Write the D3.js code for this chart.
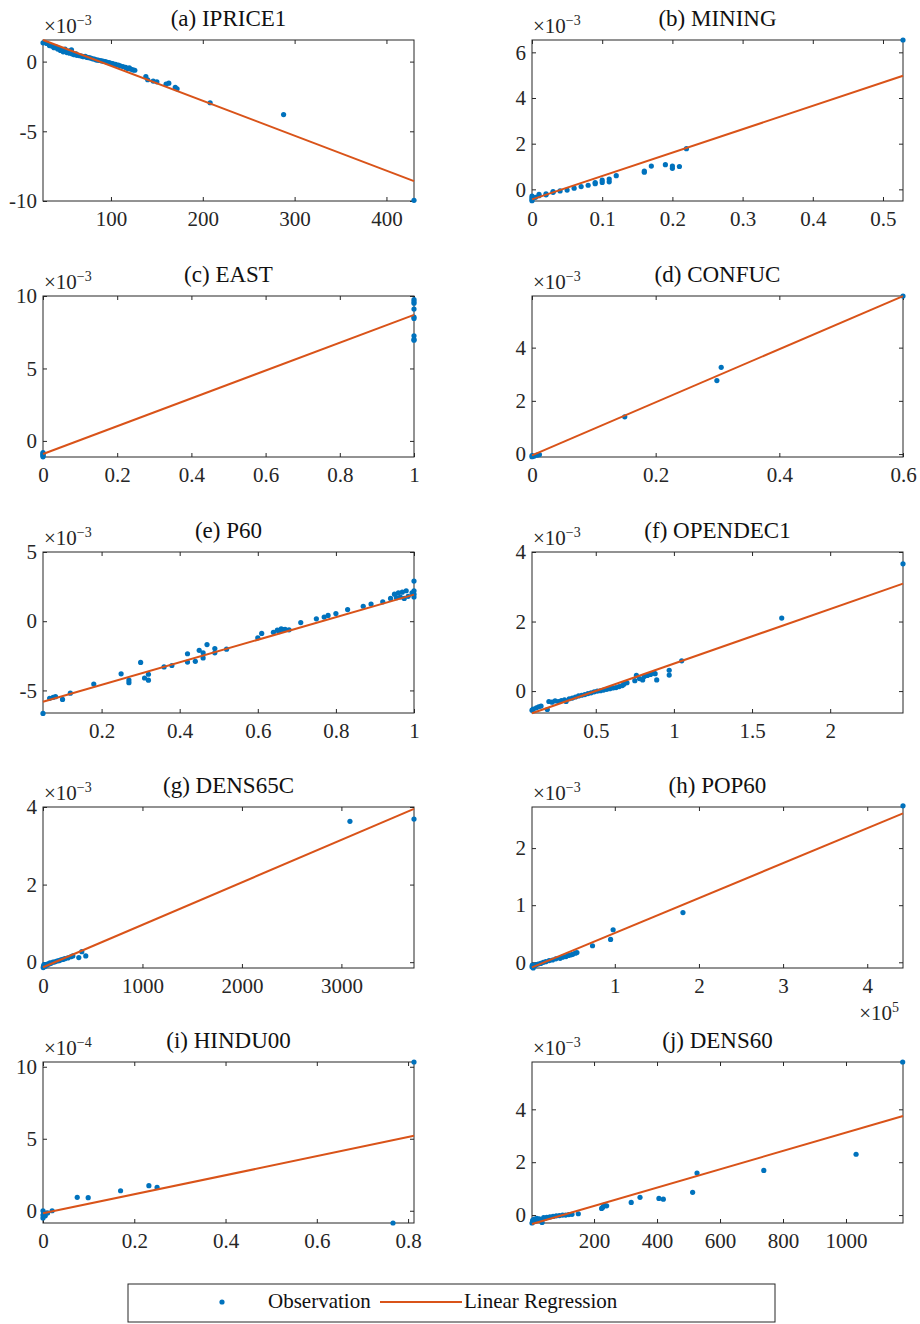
<!DOCTYPE html>
<html>
<head>
<meta charset="utf-8">
<script src="https://cdn.jsdelivr.net/npm/d3@7"></script>
<style>
  body { margin: 0; background: #fff; }
  svg text { font-family: "Liberation Serif", "DejaVu Serif", serif; }
</style>
</head>
<body>
<svg id="chart" width="920" height="1324"></svg>
<script>
// ---- data (y values are in units of 10^yExp, x in units of 10^xExp) ----
const titles = ["(a) IPRICE1", "(b) MINING", "(c) EAST", "(d) CONFUC", "(e) P60",
  "(f) OPENDEC1", "(g) DENS65C", "(h) POP60", "(i) HINDU00", "(j) DENS60"];
const yExps = [-3, -3, -3, -3, -3, -3, -3, -3, -4, -3];
const xExps = [0, 0, 0, 0, 0, 0, 0, 5, 0, 0];
const xTicks = [
  [100, 200, 300, 400], [0, 0.1, 0.2, 0.3, 0.4, 0.5], [0, 0.2, 0.4, 0.6, 0.8, 1],
  [0, 0.2, 0.4, 0.6], [0.2, 0.4, 0.6, 0.8, 1], [0.5, 1, 1.5, 2],
  [0, 1000, 2000, 3000], [1, 2, 3, 4], [0, 0.2, 0.4, 0.6, 0.8], [200, 400, 600, 800, 1000]
];
const yTicks = [
  [-10, -5, 0], [0, 2, 4, 6], [0, 5, 10], [0, 2, 4], [-5, 0, 5],
  [0, 2, 4], [0, 2, 4], [0, 1, 2], [0, 5, 10], [0, 2, 4]
];
const xLims = [[26, 430], [0, 0.5285], [0, 1], [0, 0.6], [0.05, 1],
  [0.092, 2.466], [0, 3730], [0.016, 4.425], [0, 0.813], [3, 1181]];
const yLims = [[-10, 1.55], [-0.51, 6.54], [-1.11, 10], [-0.11, 5.94], [-6.63, 5],
  [-0.63, 4], [-0.15, 4], [-0.1, 2.72], [-0.85, 10.33], [-0.3, 5.79]];
// linear regression: [intercept, slope]
const fits = [[2.2, -0.02505], [-0.44, 10.24], [-0.9, 9.6], [-0.05, 9.98], [-6.23, 8.15],
  [-0.78, 1.57], [-0.13, 0.001094], [-0.1, 0.612], [-0.18, 6.62], [-0.35, 0.00347]];

const iprice1 = [[26,1.35],[30,1.3],[33,1.15],[36,1.1],[38,1.0],[40,1.05],[42,0.9],[44,0.95],[45,0.8],
  [47,0.85],[48,0.7],[50,0.9],[52,0.65],[54,0.75],[55,0.6],[57,0.85],[58,0.55],[60,0.5],[62,0.55],
  [63,0.45],[66,0.42],[68,0.4],[70,0.35],[72,0.38],[74,0.3],[76,0.28],[78,0.25],[80,0.2],[82,0.18],
  [84,0.12],[86,0.1],[88,0.08],[90,0.05],[92,0.02],[94,0],[96,-0.05],[98,-0.08],[100,-0.12],
  [102,-0.15],[105,-0.2],[108,-0.25],[110,-0.3],[113,-0.35],[116,-0.42],[118,-0.5],[120,-0.45],
  [122,-0.55],[124,-0.6],[126,-0.62],[138,-1.08],[140,-1.3],[146,-1.4],[150,-1.45],[160,-1.62],
  [163,-1.55],[170,-1.85],[172,-1.95],[208,-2.95],[288,-3.8],[430,-9.95]];
const mining = [[0,-0.5],[0,-0.45],[0,-0.38],[0,-0.3],[0.005,-0.35],[0.01,-0.22],[0.01,-0.28],
  [0.02,-0.2],[0.02,-0.24],[0.03,-0.13],[0.03,-0.1],[0.04,-0.07],[0.05,-0.03],[0.06,0.05],
  [0.07,0.12],[0.08,0.18],[0.09,0.25],[0.09,0.3],[0.1,0.3],[0.1,0.4],[0.11,0.33],[0.11,0.45],
  [0.12,0.6],[0.16,0.8],[0.16,0.75],[0.17,1.02],[0.19,1.08],[0.2,0.92],[0.2,1.02],[0.21,1.0],
  [0.22,1.78],[0.5285,6.54]];
const east = [[0,-0.8],[0,-0.88],[0,-0.95],[0,-1.02],[0,-1.1],
  [1,9.75],[1,9.62],[1,9.5],[1,9.1],[1,8.55],[1,8.45],[1,7.25],[1,7.0],[1,6.95]];
const confuc = [[0,-0.1],[0,-0.06],[0.003,-0.08],[0.008,-0.04],[0.012,-0.02],
  [0.15,1.4],[0.299,2.76],[0.306,3.26],[0.6,5.94]];
const p60 = [[0.05,-6.66],[0.067,-5.57],[0.076,-5.5],[0.082,-5.45],[0.1,-5.65],[0.12,-5.2],
  [0.18,-4.54],[0.25,-3.8],[0.27,-4.25],[0.27,-4.44],[0.3,-2.98],[0.31,-4.1],[0.32,-4.26],
  [0.32,-3.83],[0.36,-3.3],[0.38,-3.2],[0.42,-2.35],[0.42,-2.95],[0.44,-2.9],[0.45,-2.1],
  [0.46,-2.65],[0.46,-2.28],[0.47,-1.69],[0.49,-1.97],[0.49,-2.28],[0.52,-2.02],[0.6,-1.2],
  [0.61,-0.88],[0.64,-0.8],[0.65,-0.65],[0.655,-0.75],[0.66,-0.55],[0.665,-0.6],[0.67,-0.58],
  [0.68,-0.62],[0.71,-0.1],[0.75,0.17],[0.77,0.3],[0.78,0.42],[0.8,0.55],[0.83,0.84],[0.87,1.08],
  [0.89,1.24],[0.92,1.4],[0.94,1.65],[0.95,1.95],[0.955,1.7],[0.96,2.05],[0.965,1.75],[0.97,2.1],
  [0.975,1.65],[0.98,2.2],[0.985,1.8],[1,2.9],[1,2.2],[1,1.95],[1,1.75],[0.995,2.05]];
const opendec1 = [[0.092,-0.55],[0.1,-0.52],[0.12,-0.48],[0.135,-0.45],[0.15,-0.43],[0.19,-0.53],
  [0.2,-0.3],[0.22,-0.32],[0.24,-0.28],[0.26,-0.3],[0.28,-0.27],[0.3,-0.25],[0.31,-0.3],[0.33,-0.22],
  [0.35,-0.2],[0.37,-0.17],[0.39,-0.14],[0.41,-0.12],[0.43,-0.1],[0.45,-0.07],[0.47,-0.05],
  [0.49,-0.02],[0.51,0],[0.53,0.01],[0.55,0.03],[0.57,0.05],[0.59,0.07],[0.61,0.09],[0.63,0.1],
  [0.65,0.13],[0.67,0.16],[0.68,0.2],[0.7,0.24],[0.75,0.3],[0.76,0.45],[0.78,0.36],[0.8,0.32],
  [0.81,0.42],[0.83,0.45],[0.85,0.48],[0.87,0.52],[0.88,0.5],[0.89,0.32],[0.97,0.6],[0.97,0.46],
  [1.05,0.87],[1.69,2.1],[2.466,3.66]];
const dens65c = [[2,-0.14],[5,-0.1],[8,-0.12],[10,-0.06],[15,-0.11],[20,-0.08],[25,-0.1],[30,-0.06],
  [40,-0.07],[50,-0.04],[60,-0.05],[70,-0.02],[80,-0.03],[100,0],[120,0.01],[140,0.03],[160,0.04],
  [180,0.06],[200,0.07],[220,0.09],[250,0.11],[280,0.14],[300,0.16],[360,0.12],[390,0.27],
  [430,0.16],[3086,3.63],[3730,3.69]];
const pop60 = [[0.016,-0.08],[0.02,-0.05],[0.03,-0.1],[0.05,-0.06],[0.07,-0.04],[0.09,-0.03],
  [0.12,-0.02],[0.15,0],[0.18,0.01],[0.22,0.03],[0.26,0.04],[0.3,0.06],[0.35,0.07],[0.38,0.09],
  [0.42,0.1],[0.45,0.12],[0.48,0.13],[0.5,0.14],[0.53,0.16],[0.55,0.17],[0.735,0.29],[0.95,0.4],
  [0.98,0.57],[1.81,0.87],[4.425,2.74]];
const hindu00 = [[0,-0.5],[0,-0.3],[0,0],[0.002,-0.2],[0.005,-0.35],[0.01,-0.15],[0.02,0],
  [0.075,0.93],[0.099,0.91],[0.17,1.39],[0.232,1.74],[0.25,1.62],[0.767,-0.85],[0.813,10.33]];
const dens60 = [[3,-0.3],[5,-0.2],[8,-0.25],[10,-0.15],[14,-0.22],[18,-0.12],[22,-0.18],[26,-0.14],
  [30,-0.2],[35,-0.28],[40,-0.1],[45,-0.12],[50,-0.09],[60,-0.07],[70,-0.05],[80,-0.03],[90,-0.02],
  [100,0],[110,0],[120,0.02],[130,0.03],[150,0.05],[224,0.25],[228,0.3],[232,0.38],[240,0.35],
  [318,0.48],[346,0.67],[406,0.63],[420,0.6],[513,0.86],[527,1.59],[739,1.69],[1032,2.3],[1180,5.79]];
const observations = [iprice1, mining, east, confuc, p60, opendec1, dens65c, pop60, hindu00, dens60];

// ---- layout ----
const W = 371, H = 161;
const colX = [43, 532];
const rowY = [40, 296, 552, 807, 1062];
const BLUE = "#0072BD", ORANGE = "#D95319", AX = "#262626";
const FONT = "Liberation Serif, DejaVu Serif, serif";

const svg = d3.select("#chart");
svg.append("rect").attr("width", 920).attr("height", 1324).attr("fill", "#fff");

const fmt = d => String(d);

function expLabel(sel, exp, anchor) {
  const t = sel.append("text").attr("fill", AX).attr("font-size", 21).attr("text-anchor", anchor)
    .attr("font-family", FONT);
  t.append("tspan").text("\u00d710");
  t.append("tspan").attr("dy", -8).attr("font-size", 14).text(String(exp).replace("-", "\u2212"));
  return t;
}

titles.forEach((title, i) => {
  const left = colX[i % 2], top = rowY[Math.floor(i / 2)];
  const g = svg.append("g").attr("transform", `translate(${left},${top})`);
  const x = d3.scaleLinear().domain(xLims[i]).range([0, W]);
  const y = d3.scaleLinear().domain(yLims[i]).range([H, 0]);

  // axes, ticks pointing inward on all four sides
  const styleAxis = a => {
    a.attr("font-size", 21).attr("font-family", FONT);
    a.select(".domain").remove();
    a.selectAll(".tick line").attr("stroke", AX);
    a.selectAll(".tick text").attr("fill", AX);
  };
  g.append("g").attr("transform", `translate(0,${H})`)
    .call(d3.axisBottom(x).tickValues(xTicks[i]).tickFormat(fmt).tickSize(-4).tickPadding(10))
    .call(styleAxis);
  g.append("g")
    .call(d3.axisTop(x).tickValues(xTicks[i]).tickFormat("").tickSize(-4))
    .call(styleAxis);
  g.append("g")
    .call(d3.axisLeft(y).tickValues(yTicks[i]).tickFormat(fmt).tickSize(-4).tickPadding(6))
    .call(styleAxis);
  g.append("g").attr("transform", `translate(${W},0)`)
    .call(d3.axisRight(y).tickValues(yTicks[i]).tickFormat("").tickSize(-4))
    .call(styleAxis);

  g.append("rect").attr("width", W).attr("height", H)
    .attr("fill", "none").attr("stroke", AX).attr("stroke-width", 1);

  // observations
  g.append("g").selectAll("circle").data(observations[i]).join("circle")
    .attr("cx", d => x(d[0])).attr("cy", d => y(d[1])).attr("r", 2.6).attr("fill", BLUE);

  // regression line
  const [b0, b1] = fits[i];
  g.append("path")
    .datum(xLims[i].map(v => [v, b0 + b1 * v]))
    .attr("d", d3.line().x(d => x(d[0])).y(d => y(d[1])))
    .attr("fill", "none").attr("stroke", ORANGE).attr("stroke-width", 2);

  // title and exponent labels
  g.append("text").attr("x", W / 2).attr("y", -14).attr("text-anchor", "middle")
    .attr("font-family", FONT).attr("font-size", 23).attr("fill", "#111").text(title);
  expLabel(g, yExps[i], "start").attr("x", 1).attr("y", -7);
  if (xExps[i] !== 0) {
    expLabel(g, xExps[i], "end").attr("x", W - 4).attr("y", H + 52);
  }
});

// ---- legend ----
const lg = svg.append("g").attr("font-family", FONT);
lg.append("rect").attr("x", 128).attr("y", 1284).attr("width", 647).attr("height", 38)
  .attr("fill", "#fff").attr("stroke", AX).attr("stroke-width", 1);
lg.append("circle").attr("cx", 222).attr("cy", 1302).attr("r", 2.6).attr("fill", BLUE);
lg.append("text").attr("x", 268).attr("y", 1308).attr("font-size", 21).attr("fill", "#111").text("Observation");
lg.append("line").attr("x1", 380).attr("x2", 462).attr("y1", 1302).attr("y2", 1302)
  .attr("stroke", ORANGE).attr("stroke-width", 2);
lg.append("text").attr("x", 464).attr("y", 1308).attr("font-size", 21).attr("fill", "#111").text("Linear Regression");
</script>
</body>
</html>
